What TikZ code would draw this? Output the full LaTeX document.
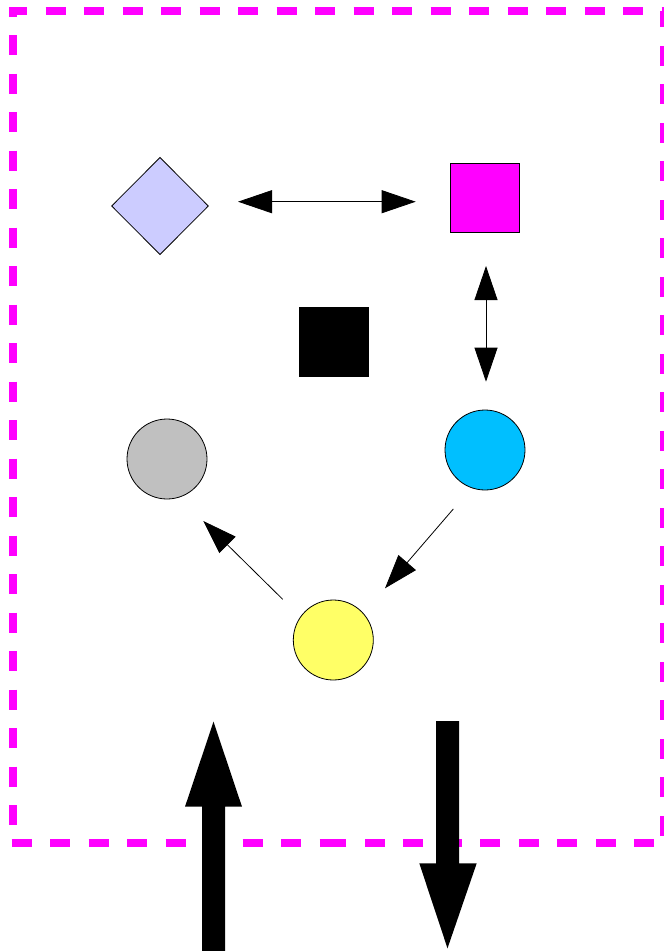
\documentclass[tikz,border=0pt]{standalone}
\usetikzlibrary{arrows.meta,shapes.geometric}

\definecolor{lavender}{RGB}{204,204,255}
\definecolor{hotpink}{RGB}{255,0,255}
\definecolor{skyfill}{RGB}{0,191,255}
\definecolor{greyfill}{RGB}{192,192,192}
\definecolor{lemon}{RGB}{255,255,102}

\tikzset{
  shape outline/.style={draw=black, line width=0.8pt, inner sep=0pt, outer sep=0pt},
  squarebox/.style={shape outline, rectangle, minimum size=69pt},
  diamondbox/.style={shape outline, diamond, minimum width=96.6pt, minimum height=97pt},
  roundbox/.style={shape outline, circle, minimum size=80pt},
  thin link/.style={draw=black, line width=0.8pt},
  small tip/.tip={Triangle[length=34pt,width=23pt]},
  frame side/.style={draw=hotpink, line width=8pt, line cap=butt,
                     dash pattern=on 20pt off 18.5pt},
  fat arrow/.style={fill=black},
}

\begin{document}
\begin{tikzpicture}[x=1pt, y=-1pt]
  \useasboundingbox (0,0) rectangle (664,951);

  % dashed frame, one stroke per side
  \coordinate (tl) at (13,11);
  \coordinate (tr) at (664,11);
  \coordinate (br) at (664,843);
  \coordinate (bl) at (13,843);
  \draw[frame side, dash phase=2pt]    (9,11) -- (tr);
  \draw[frame side, dash phase=4pt]    (tr) -- (br);
  \draw[frame side, dash phase=28.5pt] (br) -- (340,843);
  \draw[frame side, dash phase=0pt]    (11.5,843) -- (346,843);
  \draw[frame side, dash phase=14.5pt] (tl) -- (bl);

  % shapes
  \node[diamondbox, fill=lavender] (dia)   at (160,206)   {};
  \node[squarebox,  fill=hotpink]  (pink)  at (484.7,198) {};
  \node[squarebox,  fill=black]    (blk)   at (333.5,342) {};
  \node[roundbox,   fill=greyfill] (grey)  at (167,459)   {};
  \node[roundbox,   fill=skyfill]  (sky)   at (485,450)   {};
  \node[roundbox,   fill=lemon]    (lemon) at (333.3,640) {};

  % thin connectors
  \coordinate (h1) at (238,201.7);
  \coordinate (h2) at (415.7,201.7);
  \coordinate (v1) at (486,266);
  \coordinate (v2) at (486,381.7);
  \coordinate (a1) at (282.7,599.3);
  \coordinate (a2) at (203.3,521);
  \coordinate (b1) at (453.3,509);
  \coordinate (b2) at (385,588.3);
  \draw[thin link, small tip-small tip] (h1) -- (h2);
  \draw[thin link, small tip-small tip] (v1) -- (v2);
  \draw[thin link, -small tip] (a1) -- (a2);
  \draw[thin link, -small tip] (b1) -- (b2);

  % big arrows at the bottom
  \coordinate (upbase) at (213.5,960);
  \coordinate (uptip)  at (213.5,721.7);
  \fill[fat arrow] (202,960) -- (202,806.7) -- (185,806.7) -- (uptip)
        -- (242,806.7) -- (225,806.7) -- (225,960) -- cycle;
  \coordinate (dnbase) at (447.5,721);
  \coordinate (dntip)  at (447.5,948.3);
  \fill[fat arrow] (436,721) -- (459,721) -- (459,863.3) -- (476.7,863.3)
        -- (dntip) -- (419.3,863.3) -- (436,863.3) -- cycle;
\end{tikzpicture}
\end{document}
